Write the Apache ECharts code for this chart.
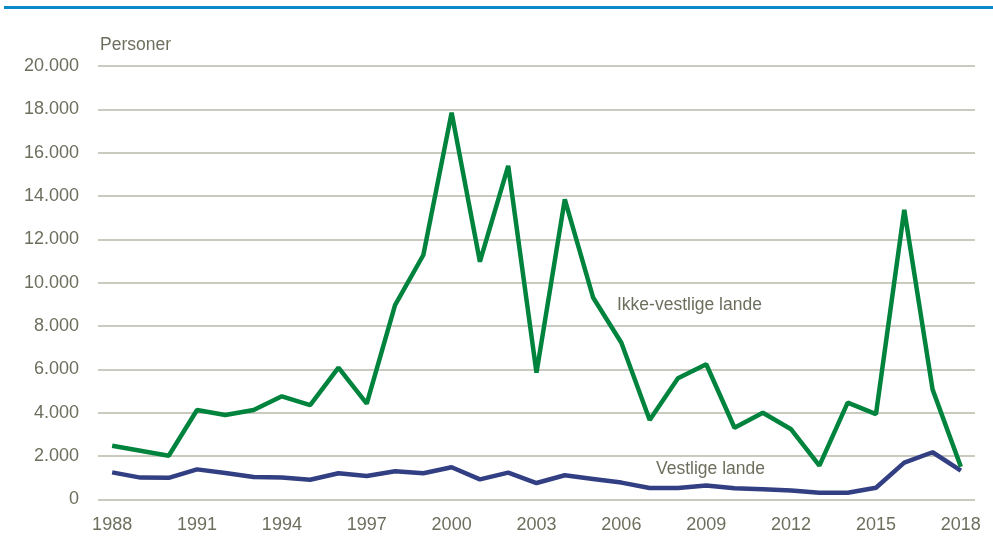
<!DOCTYPE html>
<html>
<head>
<meta charset="utf-8">
<script src="https://cdn.jsdelivr.net/npm/echarts@6/dist/echarts.min.js"></script>
<style>
  html, body { margin: 0; padding: 0; background: #fff; }
  #chart { width: 993px; height: 537px; }
</style>
</head>
<body>
<div id="chart"></div>
<script>
// år 1988-2018
var years = ['1988','1989','1990','1991','1992','1993','1994','1995','1996','1997',
    '1998','1999','2000','2001','2002','2003','2004','2005','2006','2007',
    '2008','2009','2010','2011','2012','2013','2014','2015','2016','2017','2018'];
var ikkeVestlige = [2480, 2250, 2020, 4130, 3900, 4130, 4760, 4350, 6080, 4420,
    8970, 11280, 17850, 10970, 15390, 5850, 13850, 9320, 7230, 3670,
    5590, 6240, 3310, 4000, 3240, 1560, 4470, 3940, 13360, 5080, 1510];
var vestlige = [1250, 1010, 1000, 1390, 1220, 1040, 1020, 910, 1210, 1080,
    1300, 1210, 1490, 930, 1240, 760, 1120, 950, 780, 530,
    530, 650, 520, 470, 420, 310, 310, 540, 1700, 2180, 1330];
var yTicks = [0, 2000, 4000, 6000, 8000, 10000, 12000, 14000, 16000, 18000, 20000];

var font = '"Liberation Sans", Arial, sans-serif';
var txtColor = '#6e6e5e';

var chart = echarts.init(document.getElementById('chart'));
chart.setOption({
    animation: false,
    textStyle: { fontFamily: font },
    grid: { left: 98, right: 18, top: 66, bottom: 37.5 },
    graphic: [
        { type: 'rect', shape: { x: 4, y: 6, width: 989, height: 3 }, style: { fill: '#0a88c8' } },
        { type: 'text', left: 100, top: 36, style: { text: 'Personer', fill: txtColor, font: '17.5px ' + font } },
        { type: 'text', left: 617, top: 296, style: { text: 'Ikke-vestlige lande', fill: txtColor, font: '17.5px ' + font } },
        { type: 'text', left: 656, top: 460, style: { text: 'Vestlige lande', fill: txtColor, font: '17.5px ' + font } }
    ],
    xAxis: {
        type: 'category',
        data: years,
        boundaryGap: true,
        axisLine: { show: false },
        axisTick: { show: false },
        axisLabel: {
            interval: 2,
            color: txtColor,
            fontSize: 18,
            fontFamily: font,
            margin: 17
        }
    },
    yAxis: {
        type: 'value',
        min: yTicks[0],
        max: yTicks[yTicks.length - 1],
        interval: 2000,
        axisLine: { show: false },
        axisTick: { show: false },
        splitLine: { lineStyle: { color: '#b9b9aa', width: 1.5 } },
        axisLabel: {
            color: txtColor,
            fontSize: 18,
            fontFamily: font,
            margin: 19,
            formatter: function (v) {
                return String(v).replace(/\B(?=(\d{3})+(?!\d))/g, '.');
            }
        }
    },
    series: [
        {
            name: 'Ikke-vestlige lande',
            type: 'line',
            data: ikkeVestlige,
            symbol: 'none',
            lineStyle: { color: '#00843d', width: 4.5 },
            z: 3
        },
        {
            name: 'Vestlige lande',
            type: 'line',
            data: vestlige,
            symbol: 'none',
            lineStyle: { color: '#323f82', width: 4.5 },
            z: 2
        }
    ]
});
</script>
</body>
</html>
